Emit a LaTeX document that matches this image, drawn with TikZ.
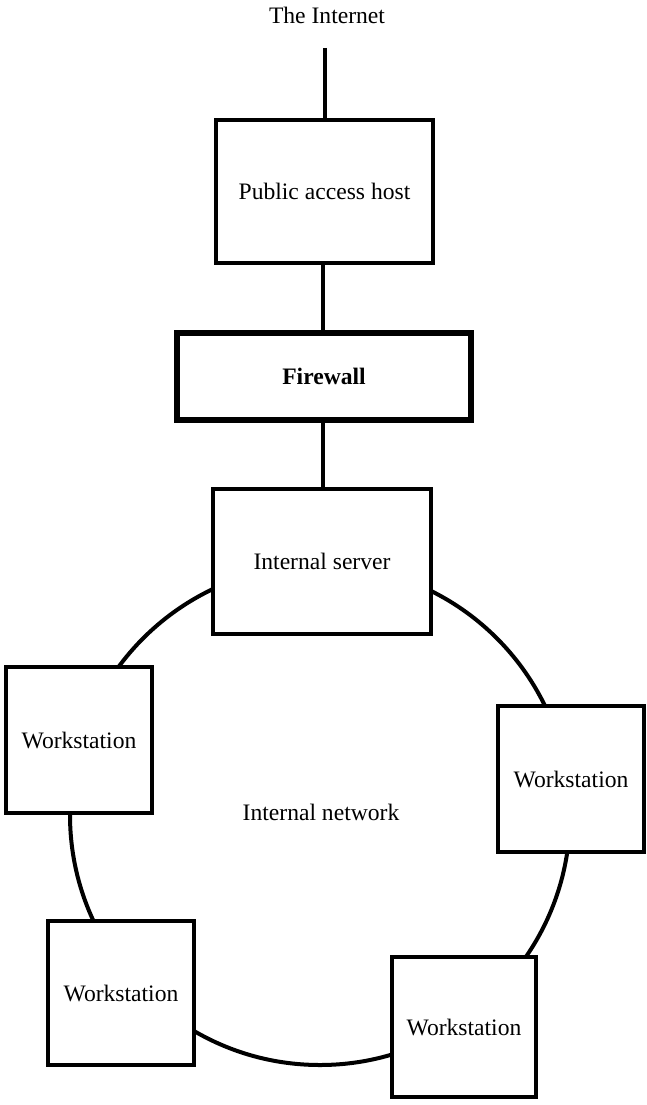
\documentclass[tikz,border=0pt]{standalone}
\usepackage{fontspec}
\setmainfont{Liberation Serif}
\begin{document}
\begin{tikzpicture}[x=1pt,y=-1pt,
  every node/.style={font=\fontsize{23.6}{28}\selectfont},
  hostbox/.style={draw=black, line width=4pt, fill=white, rectangle, inner sep=0pt},
  wallbox/.style={draw=black, line width=6.5pt, fill=white, rectangle, inner sep=0pt, font=\fontsize{23.6}{28}\selectfont\bfseries},
  wire/.style={draw=black, line width=3.5pt},
  ring/.style={draw=black, line width=4pt}]
\useasboundingbox (0,0) rectangle (647,1105);
% ring
\coordinate (ringc) at (320,815);
\draw[ring] (ringc) circle [radius=250pt];
% labels
\node (inet) at (327,15) {The Internet};
\node (net) at (321,812) {Internal network};
\coordinate (feed) at (325,48);
% boxes
\node[hostbox, minimum width=217pt, minimum height=143pt] (pub) at (324.5,191.5) {Public access host};
\node[wallbox, minimum width=294pt, minimum height=87pt] (fw) at (324,376.5) {Firewall};
\node[hostbox, minimum width=218pt, minimum height=145pt] (srv) at (322,561.5) {Internal server};
\node[hostbox, minimum width=146pt, minimum height=146pt] (ws1) at (79,740) {Workstation};
\node[hostbox, minimum width=146pt, minimum height=146pt] (ws2) at (571,779) {Workstation};
\node[hostbox, minimum width=146pt, minimum height=144pt] (ws3) at (121,993) {Workstation};
\node[hostbox, minimum width=144pt, minimum height=140pt] (ws4) at (464,1027) {Workstation};
% connectors
\draw[wire] (feed) -- (feed |- pub.north);
\draw[wire] (pub.south -| 323,0) -- (fw.north -| 323,0);
\draw[wire] (fw.south -| 323,0) -- (srv.north -| 323,0);
\end{tikzpicture}
\end{document}
